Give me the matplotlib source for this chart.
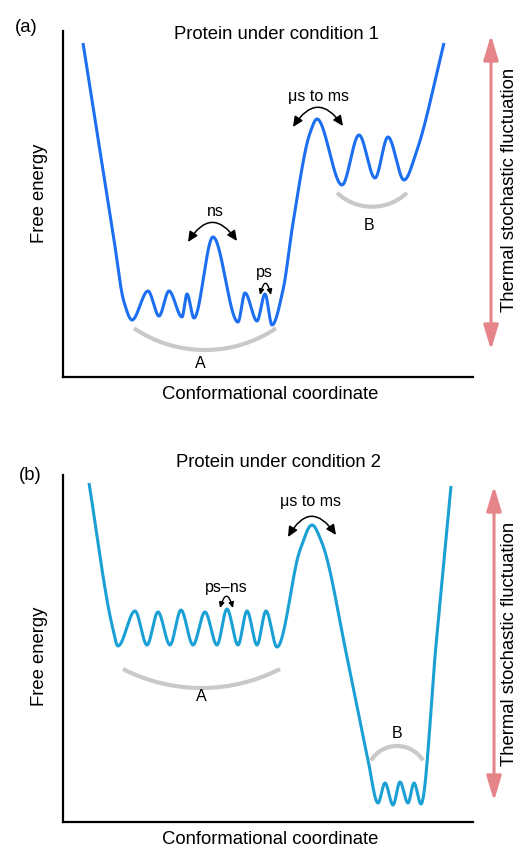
import numpy as np
import matplotlib
matplotlib.use("Agg")
import matplotlib.pyplot as plt
from matplotlib.patches import FancyArrowPatch, Arc

plt.rcParams['font.family'] = ['Liberation Sans', 'DejaVu Sans']

# ---- data: energy landscape waypoints (pixel-like coordinates, y downwards) ----
a_x = [83, 113, 124, 132, 148, 159, 169, 182, 187, 194, 213, 238, 245, 257, 265, 272,
       283, 293, 310, 317, 342, 359, 375, 388, 404, 417, 444]
a_y = [43, 233, 302, 320, 291, 316, 291, 317, 294, 318, 237, 322, 293, 321, 294, 325,
       290, 223, 133, 119, 185, 135, 178, 137, 180, 150, 43]

b_x = [89, 112, 118, 135, 147, 158, 170, 181, 193, 205, 217, 227, 238, 247, 257, 266, 277,
       300, 312, 322, 347, 368, 378, 385, 393, 400, 408, 414, 421, 436, 451]
b_y = [483, 625, 646, 611, 645, 612, 645, 610, 645, 612, 645, 609, 645, 611, 645, 611, 647,
       550, 525, 543, 657, 760, 803, 783, 805, 782, 803, 783, 804, 645, 486]

titles = ["Protein under condition 1", "Protein under condition 2"]
panel_tags = ["(a)", "(b)"]
xlabel = "Conformational coordinate"
ylabel = "Free energy"
side_label = "Thermal stochastic fluctuation"
state_labels = ["A", "B"]
time_labels_a = ["ns", "ps", "μs to ms"]
time_labels_b = ["ps–ns", "μs to ms"]

color_a = "#1b6ff0"
color_b = "#1aa0d5"
gray = "#c9c9c9"
red = "#e5858a"


def pchip(x, y, xs):
    x = np.asarray(x, float); y = np.asarray(y, float)
    h = np.diff(x); d = np.diff(y) / h
    m = np.zeros_like(y)
    m[0] = d[0]; m[-1] = d[-1]
    for k in range(1, len(x) - 1):
        if d[k - 1] * d[k] <= 0:
            m[k] = 0.0
        else:
            w1 = 2 * h[k] + h[k - 1]; w2 = h[k] + 2 * h[k - 1]
            m[k] = (w1 + w2) / (w1 / d[k - 1] + w2 / d[k])
    idx = np.clip(np.searchsorted(x, xs) - 1, 0, len(x) - 2)
    t = (xs - x[idx]) / h[idx]
    h00 = 2 * t**3 - 3 * t**2 + 1; h10 = t**3 - 2 * t**2 + t
    h01 = -2 * t**3 + 3 * t**2; h11 = t**3 - t**2
    return h00 * y[idx] + h10 * h[idx] * m[idx] + h01 * y[idx + 1] + h11 * h[idx] * m[idx + 1]


W, H = 521, 849
fig = plt.figure(figsize=(W / 100, H / 100), dpi=100)


def make_ax(x0, x1, y0, y1):
    ax = fig.add_axes([x0 / W, (H - y1) / H, (x1 - x0) / W, (y1 - y0) / H])
    ax.set_xlim(x0, x1); ax.set_ylim(y1, y0)
    for s in ["top", "right"]:
        ax.spines[s].set_visible(False)
    for s in ["left", "bottom"]:
        ax.spines[s].set_linewidth(1.6)
    ax.set_xticks([]); ax.set_yticks([])
    ax.patch.set_alpha(0)
    return ax


def curved_arrow(ax, p0, p1, rad, both=True, hl=0.6, hw=0.28, lw=1.1):
    style = ('<|-|>' if both else '-|>') + f',head_length={hl},head_width={hw}'
    ar = FancyArrowPatch(p0, p1, connectionstyle=f"arc3,rad={rad}", arrowstyle=style,
                         mutation_scale=10, lw=lw, color="black", shrinkA=0, shrinkB=0,
                         clip_on=False)
    ax.add_patch(ar)


def red_arrow(ax, x, ytop, ybot):
    ar = FancyArrowPatch((x, ybot), (x, ytop), arrowstyle='<|-|>,head_length=15,head_width=4.5',
                         mutation_scale=1, lw=2.2, color=red, shrinkA=0, shrinkB=0, clip_on=False)
    ax.add_patch(ar)


fs_big = 13.3
fs_small = 11.5

# ---------------- panel (a) ----------------
axa = make_ax(63, 473, 31, 377)
xs = np.linspace(a_x[0], a_x[-1], 1500)
axa.plot(xs, pchip(a_x, a_y, xs), color=color_a, lw=2.2, solid_capstyle='butt', clip_on=False)
axa.add_patch(Arc((205, 223), 254, 254, theta1=56, theta2=124, lw=3, color=gray, clip_on=False))
axa.add_patch(Arc((372, 156), 101.5, 101.5, theta1=46.4, theta2=133.6, lw=3, color=gray, clip_on=False))
curved_arrow(axa, (188, 242), (237, 241), -0.75)
curved_arrow(axa, (260, 295), (271, 295), -2.0, hl=0.32, hw=0.15, lw=1.0)
curved_arrow(axa, (293, 127), (343, 126), -0.74)
red_arrow(axa, 491, 35, 350)
axa.text(26, 32, panel_tags[0], fontsize=fs_big, ha='center', va='baseline')
axa.text(277, 39, titles[0], fontsize=fs_big, ha='center', va='baseline')
axa.text(39, 193, ylabel, fontsize=fs_big, rotation=90, ha='center', va='center')
axa.text(270, 394, xlabel, fontsize=fs_big, ha='center', va='center')
axa.text(510, 190, side_label, fontsize=fs_big, rotation=90, ha='center', va='center')
axa.text(215, 216, time_labels_a[0], fontsize=fs_small, ha='center', va='baseline')
axa.text(264, 277, time_labels_a[1], fontsize=fs_small, ha='center', va='baseline')
axa.text(318, 101, time_labels_a[2], fontsize=fs_small, ha='center', va='baseline')
axa.text(200, 368, state_labels[0], fontsize=fs_small, ha='center', va='baseline')
axa.text(369, 230, state_labels[1], fontsize=fs_small, ha='center', va='baseline')

# ---------------- panel (b) ----------------
axb = make_ax(63, 473, 475, 822)
xs = np.linspace(b_x[0], b_x[-1], 1500)
axb.plot(xs, pchip(b_x, b_y, xs), color=color_b, lw=2.2, solid_capstyle='butt', clip_on=False)
axb.add_patch(Arc((201.5, 516.3), 343.4, 343.4, theta1=62.8, theta2=117.2, lw=3, color=gray, clip_on=False))
axb.add_patch(Arc((397, 776.6), 61.2, 61.2, theta1=212, theta2=328, lw=3, color=gray, clip_on=False))
curved_arrow(axb, (220, 608), (233, 608), -1.7, hl=0.32, hw=0.15, lw=1.0)
curved_arrow(axb, (288, 537), (336, 535), -0.79)
red_arrow(axb, 494, 486, 801)
axb.text(30, 480, panel_tags[1], fontsize=fs_big, ha='center', va='baseline')
axb.text(278, 467, titles[1], fontsize=fs_big, ha='center', va='baseline')
axb.text(40, 656, ylabel, fontsize=fs_big, rotation=90, ha='center', va='center')
axb.text(270, 839, xlabel, fontsize=fs_big, ha='center', va='center')
axb.text(510, 644, side_label, fontsize=fs_big, rotation=90, ha='center', va='center')
axb.text(226, 592, time_labels_b[0], fontsize=fs_small, ha='center', va='baseline')
axb.text(310, 506, time_labels_b[1], fontsize=fs_small, ha='center', va='baseline')
axb.text(201, 701, state_labels[0], fontsize=fs_small, ha='center', va='baseline')
axb.text(397, 738, state_labels[1], fontsize=fs_small, ha='center', va='baseline')

fig.savefig("out.png", dpi=100, facecolor="white")
